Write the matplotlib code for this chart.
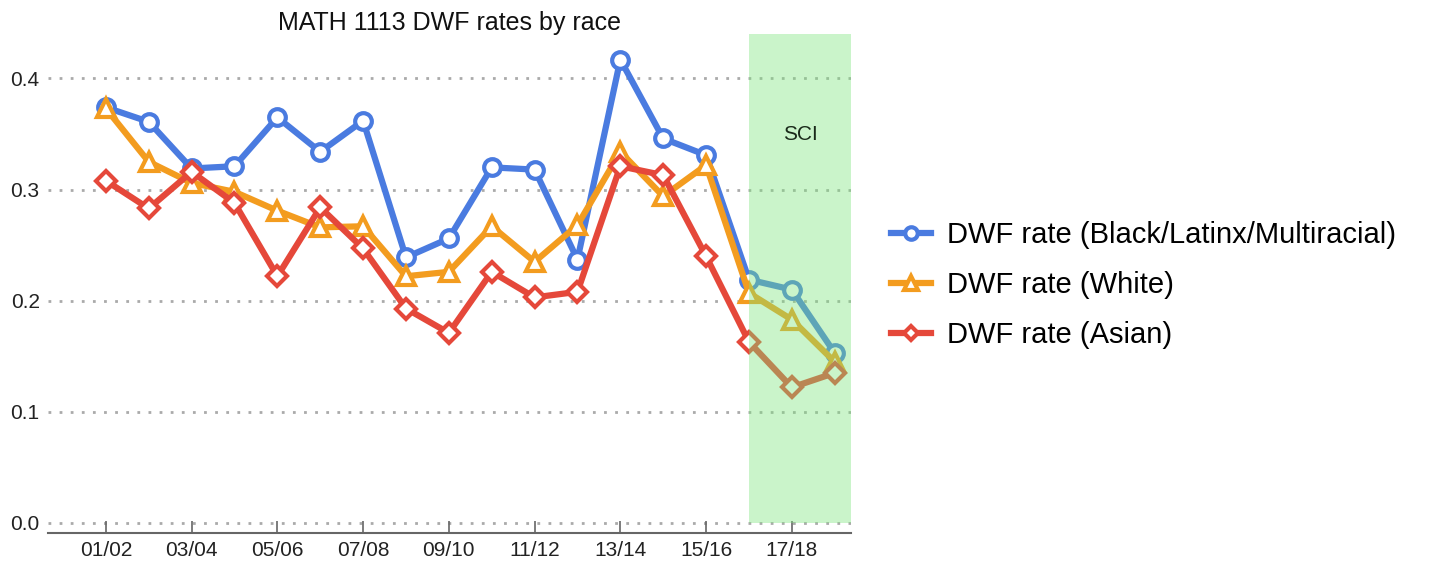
import matplotlib.pyplot as plt

# academic years 01/02 .. 18/19
years = ["01/02", "02/03", "03/04", "04/05", "05/06", "06/07", "07/08", "08/09",
         "09/10", "10/11", "11/12", "12/13", "13/14", "14/15", "15/16", "16/17",
         "17/18", "18/19"]

dwf_blm = [0.374, 0.361, 0.319, 0.321, 0.365, 0.334, 0.362, 0.239, 0.256,
           0.320, 0.318, 0.237, 0.417, 0.346, 0.331, 0.219, 0.210, 0.153]
dwf_white = [0.373, 0.325, 0.306, 0.298, 0.281, 0.266, 0.267, 0.222, 0.226,
             0.267, 0.235, 0.268, 0.334, 0.294, 0.322, 0.207, 0.183, 0.145]
dwf_asian = [0.308, 0.283, 0.316, 0.288, 0.222, 0.284, 0.247, 0.193, 0.171,
             0.226, 0.203, 0.208, 0.321, 0.313, 0.240, 0.163, 0.122, 0.135]

series_labels = ["DWF rate (Black/Latinx/Multiracial)", "DWF rate (White)", "DWF rate (Asian)"]
sci_start = "16/17"
y_ticks = [0.0, 0.1, 0.2, 0.3, 0.4]

plt.rcParams["font.family"] = ["Liberation Sans", "DejaVu Sans"]

fig = plt.figure(figsize=(14.29, 5.67), dpi=100)
ax = fig.add_axes([0.0336, 0.06, 0.5619, 0.88])

x = list(range(len(years)))
styles = [
    {"color": "#4a7be0", "marker": "o", "markersize": 12},
    {"color": "#f39c1f", "marker": "^", "markersize": 13},
    {"color": "#e5483a", "marker": "D", "markersize": 10},
]
lines = []
for vals, lab, st in zip([dwf_blm, dwf_white, dwf_asian], series_labels, styles):
    ln, = ax.plot(x, vals, label=lab, linewidth=4.5, markerfacecolor="white",
                  markeredgewidth=3, zorder=3, **st)
    lines.append(ln)

x_left, x_right = -1.35, 17.38
ax.set_xlim(x_left, x_right)
ax.set_ylim(-0.009, 0.44)

# SCI shaded region, drawn over the lines
x0 = years.index(sci_start)
ax.fill_between([x0, x_right], 0, 0.44, color="#7be57b", alpha=0.4,
                linewidth=0, zorder=4)
ax.text((x0 + x_right) / 2, 0.35, "SCI", ha="center", va="center",
        fontsize=15, color="#1a2a1a", zorder=5)

ax.set_yticks(y_ticks)
ax.set_yticklabels([f"{v:.1f}" for v in y_ticks])
ax.set_xticks(x[::2])
ax.set_xticklabels(years[::2])
ax.tick_params(axis="y", length=0, labelsize=15, labelcolor="#222222", pad=6)
ax.tick_params(axis="x", direction="in", length=9, width=1.2, color="#666666",
               labelsize=15, labelcolor="#222222", pad=6)
for yv in y_ticks:
    ax.axhline(yv, color="#aaaaaa", linestyle=(0, (1, 3)), linewidth=2, zorder=1)

for side in ["left", "right", "top"]:
    ax.spines[side].set_visible(False)
ax.spines["bottom"].set_color("#666666")
ax.spines["bottom"].set_linewidth(1.5)

fig.text(0.3146, 1 - 23 / 567, "MATH 1113 DWF rates by race", ha="center",
         va="center", fontsize=18, color="#111111")

fig.legend(handles=lines, loc="center left", bbox_to_anchor=(0.605, 0.497),
           frameon=False, fontsize=21, labelspacing=0.75, handlelength=1.38,
           handletextpad=0.55, markerscale=0.75)

fig.savefig("out.png", dpi=100)
